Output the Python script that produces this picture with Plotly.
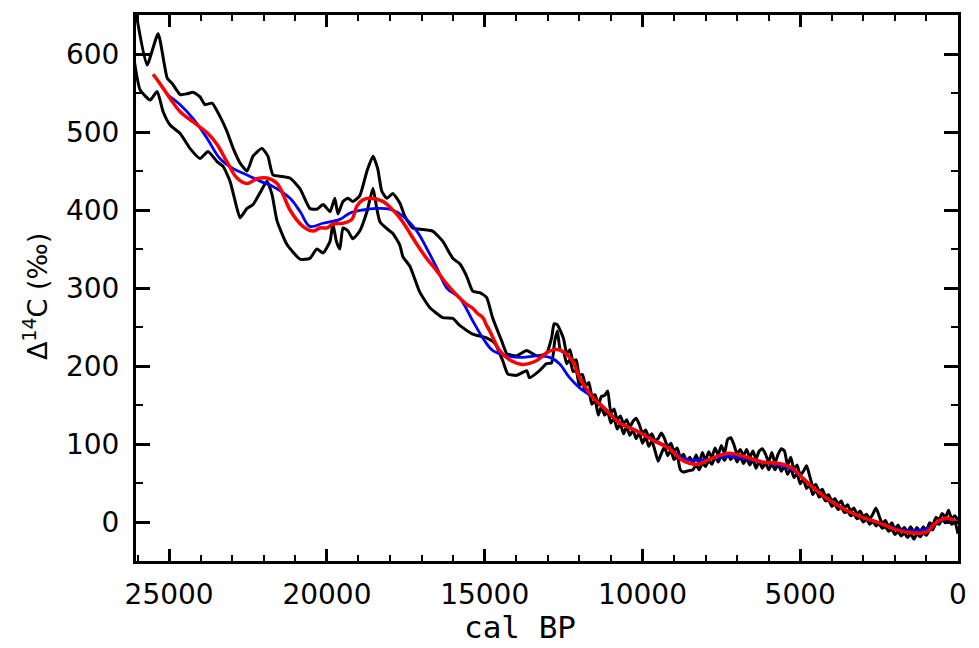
import plotly.graph_objects as go

# ---- black record A ----
a_x = [26100, 25700, 25350, 25060, 24900, 24650, 24430, 24240, 24020, 23860, 23640, 23390, 23170, 22970,
       22750, 22530, 22340, 22060, 21870, 21710, 21420, 21170, 20850, 20540, 20320, 20120, 19900, 19750,
       19650, 19490, 19330, 19180, 18960, 18730, 18540, 18390, 18260, 18100, 17910, 17690, 17530, 17280,
       16960, 16650, 16330, 16010, 15790, 15570, 15380, 15160, 14940, 14750, 14460, 14300, 13990, 13670,
       13350, 13040, 12880, 12800, 12700, 12600,
       12500, 12400, 12300, 12200, 12100, 12000, 11900, 11800, 11700, 11600, 11500, 11400, 11300, 11200,
       11100, 11000, 10900, 10800, 10700, 10600, 10500, 10400, 10300, 10200, 10100, 10000, 9900, 9800,
       9700, 9600, 9500, 9400, 9300, 9200, 9100, 9000, 8900, 8800, 8700, 8600, 8500, 8400, 8300, 8200,
       8100, 8000, 7900, 7800, 7700, 7600, 7500, 7400, 7300, 7200, 7100, 7000, 6900, 6800, 6700, 6600,
       6500, 6400, 6300, 6200, 6100, 6000, 5900, 5800, 5700, 5600, 5500, 5400, 5300, 5200, 5100, 5000,
       4900, 4800, 4700, 4600, 4500, 4400, 4300, 4200, 4100, 4000, 3900, 3800, 3700, 3600, 3500, 3400,
       3300, 3200, 3100, 3000, 2900, 2800, 2700, 2600, 2500, 2400, 2300, 2200, 2100, 2000, 1900, 1800,
       1700, 1600, 1500, 1400, 1300, 1200, 1100, 1000, 900, 800, 700, 600, 500, 400, 300, 200, 100, 0]
a_y = [665, 586, 626, 569, 562, 548, 549, 551, 545, 535, 537, 520, 501, 479,
       460, 450, 469, 479, 469, 445, 443, 441, 427, 402, 401, 407, 398, 415,
       395, 411, 415, 411, 418, 450, 469, 453, 424, 415, 421, 409, 392, 377,
       375, 373, 360, 338, 331, 315, 296, 294, 288, 262, 232, 216, 213, 220,
       213, 216, 236, 254, 253, 245,
       235, 216, 221, 206, 208, 188, 189, 175, 179, 162, 163, 150, 161, 162,
       168, 140, 145, 131, 136, 126, 131, 122, 129, 133, 125, 114, 118, 109,
       113, 104, 107, 114, 107, 96, 101, 91, 95, 83, 87, 78, 83, 76, 86, 76,
       89, 79, 90, 83, 95, 86, 98, 88, 106, 108, 99, 87, 93, 85, 93, 83,
       91, 81, 91, 94, 87, 77, 89, 76, 87, 94, 91, 73, 83, 68, 73, 60,
       65, 72, 59, 46, 48, 39, 42, 33, 35, 27, 30, 23, 27, 18, 22, 14,
       18, 10, 14, 7, 10, 4, 10, 18, 8, -2, 2, -6, -1, -9, -4, -11,
       -7, -13, -6, -13, -7, -13, -6, -11, -1, -4, 6, 3, 11, 6, 15, 4, 8, 2]

# ---- black record B ----
b_x = [26100, 25920, 25600, 25380, 25190, 24970, 24650, 24340, 24020, 23770, 23480, 23290, 23070, 22850,
       22750, 22530, 22340, 22120, 21900, 21740, 21580, 21270, 20850, 20540, 20320, 20120, 19900, 19810,
       19700, 19590, 19490, 19330, 19180, 18960, 18730, 18540, 18420, 18320, 18100, 17910, 17690, 17590,
       17370, 17060, 16740, 16330, 16010, 15790, 15380, 14940, 14680, 14430, 14270, 13990, 13670, 13580,
       13260, 13040, 12880, 12780, 12700, 12600,
       12500, 12400, 12300, 12200, 12100, 12000, 11900, 11800, 11700, 11600, 11500, 11400, 11300, 11200,
       11100, 11000, 10900, 10800, 10700, 10600, 10500, 10400, 10300, 10200, 10100, 10000, 9900, 9800,
       9700, 9600, 9500, 9400, 9300, 9200, 9100, 9000, 8900, 8800, 8700, 8600, 8500, 8400, 8300, 8200,
       8100, 8000, 7900, 7800, 7700, 7600, 7500, 7400, 7300, 7200, 7100, 7000, 6900, 6800, 6700, 6600,
       6500, 6400, 6300, 6200, 6100, 6000, 5900, 5800, 5700, 5600, 5500, 5400, 5300, 5200, 5100, 5000,
       4900, 4800, 4700, 4600, 4500, 4400, 4300, 4200, 4100, 4000, 3900, 3800, 3700, 3600, 3500, 3400,
       3300, 3200, 3100, 3000, 2900, 2800, 2700, 2600, 2500, 2400, 2300, 2200, 2100, 2000, 1900, 1800,
       1700, 1600, 1500, 1400, 1300, 1200, 1100, 1000, 900, 800, 700, 600, 500, 400, 300, 200, 100, 0]
b_y = [590, 554, 541, 552, 526, 509, 498, 479, 466, 475, 462, 456, 437, 402,
       390, 402, 407, 422, 437, 420, 386, 356, 337, 338, 350, 345, 360, 382,
       360, 350, 377, 373, 363, 373, 398, 428, 402, 385, 376, 370, 355, 340,
       328, 295, 275, 262, 261, 252, 241, 236, 229, 207, 190, 188, 194, 185,
       194, 203, 204, 232, 245, 220,
       218, 203, 208, 193, 194, 175, 179, 167, 167, 151, 156, 137, 148, 137,
       141, 127, 133, 119, 126, 113, 122, 111, 118, 107, 114, 101, 109, 97,
       104, 91, 78, 88, 96, 85, 92, 80, 85, 67, 64, 65, 66, 67, 73, 67,
       76, 71, 79, 74, 83, 77, 85, 79, 87, 80, 86, 77, 84, 75, 82, 73,
       80, 69, 78, 69, 76, 67, 75, 67, 74, 65, 72, 61, 69, 57, 62, 49,
       55, 43, 47, 35, 41, 32, 34, 27, 28, 20, 23, 16, 19, 12, 14, 8,
       10, 4, 6, 0, 4, -3, 1, -5, -2, -8, -6, -12, -9, -16, -12, -18,
       -14, -20, -15, -22, -15, -19, -14, -17, -10, -10, -2, -3, 3, -1, 4, -3, 0, -15]

# ---- blue smooth curve ----
blue_x = [25060, 24650, 24240, 23800, 23390, 22970, 22530, 22120, 21710, 21170, 20850, 20540, 20130,
          19590, 19270, 18860, 18420, 18010, 17590, 17150, 16840, 16520, 16200, 15790, 15380, 15060,
          14750, 14300, 13800, 13350, 12940, 12630, 12310, 11990, 11680, 11140, 10730, 10190, 9680,
          9150, 8730, 8290, 7780, 7250, 6710, 6200, 5660, 5250, 4940, 4620, 4080, 3540, 3040, 2500,
          1960, 1460, 1010, 700, 380, 190, 30]
blue_y = [548, 535, 517, 492, 466, 453, 445, 437, 430, 415, 398, 379, 383,
          388, 396, 400, 402, 401, 392, 373, 351, 326, 300, 287, 258, 236,
          220, 213, 211, 213, 211, 203, 185, 172, 163, 144, 128, 117, 106,
          95, 82, 79, 81, 84, 81, 76, 73, 67, 57, 45, 28, 15, 6, -1,
          -9, -11, -9, -2, 4, 3, 0]

# ---- red smooth curve ----
red_x = [25510, 25290, 24970, 24650, 24240, 23770, 23480, 23170, 22850, 22530, 22220, 21900, 21580,
         21390, 21170, 20760, 20440, 20220, 20000, 19810, 19490, 19210, 19050, 18860, 18640, 18230,
         17910, 17690, 17470, 17150, 16840, 16520, 16200, 15890, 15570, 15380, 15220, 15060, 14940,
         14840, 14530, 14210, 13800, 13350, 13040, 12780, 12530, 12210, 11990, 11580, 11140, 10730,
         10190, 9680, 9150, 8730, 8290, 7780, 7250, 6710, 6200, 5660, 5250, 4940, 4620, 4080, 3540,
         3040, 2500, 1960, 1460, 1010, 700, 380, 190, 30]
red_y = [574, 562, 543, 526, 513, 498, 484, 462, 441, 434, 440, 441, 434,
         420, 400, 379, 373, 377, 377, 382, 383, 388, 405, 413, 415, 411,
         400, 390, 377, 356, 338, 322, 305, 291, 279, 274, 267, 262, 252,
         245, 220, 208, 202, 207, 217, 221, 219, 206, 185, 160, 143, 127,
         117, 105, 94, 79, 74, 82, 88, 83, 77, 75, 69, 57, 45, 28, 15,
         6, -1, -10, -14, -13, -1, 5, 3, -1]

x_ticks = [25000, 20000, 15000, 10000, 5000, 0]
y_ticks = [0, 100, 200, 300, 400, 500, 600]

fig = go.Figure()
fig.add_trace(go.Scatter(x=a_x, y=a_y, mode="lines",
                         line=dict(color="black", width=3, shape="spline", smoothing=0.5)))
fig.add_trace(go.Scatter(x=b_x, y=b_y, mode="lines",
                         line=dict(color="black", width=3, shape="spline", smoothing=0.5)))
fig.add_trace(go.Scatter(x=blue_x, y=blue_y, mode="lines",
                         line=dict(color="#0000ff", width=2.8, shape="spline", smoothing=1.0)))
fig.add_trace(go.Scatter(x=red_x, y=red_y, mode="lines",
                         line=dict(color="#ff0000", width=3.5, shape="spline", smoothing=1.0)))

tickfont = dict(family="DejaVu Sans", size=28, color="black")

fig.update_layout(
    width=979, height=648,
    margin=dict(l=136, r=19, t=13, b=87),
    plot_bgcolor="white", paper_bgcolor="white",
    showlegend=False,
    xaxis=dict(range=[26050, 0], tickvals=x_ticks, ticktext=[str(v) for v in x_ticks],
               ticks="inside", ticklen=12, tickwidth=3, tickcolor="black",
               showline=True, linecolor="black", linewidth=3, mirror="ticks",
               showgrid=False, zeroline=False, tickfont=tickfont, ticklabelstandoff=6,
               minor=dict(dtick=1000, tick0=0, ticks="inside", ticklen=6, tickwidth=2,
                          tickcolor="black", showgrid=False)),
    yaxis=dict(range=[-50, 650], tickvals=y_ticks, ticktext=[str(v) for v in y_ticks],
               ticks="inside", ticklen=14, tickwidth=3, tickcolor="black",
               showline=True, linecolor="black", linewidth=3, mirror="ticks",
               showgrid=False, zeroline=False, tickfont=tickfont, ticklabelstandoff=8,
               minor=dict(dtick=50, tick0=0, ticks="inside", ticklen=7, tickwidth=2,
                          tickcolor="black", showgrid=False)),
    annotations=[
        dict(text="cal BP", xref="paper", yref="paper", x=0.467, y=-0.12,
             showarrow=False, font=dict(family="DejaVu Sans Mono", size=31, color="black"),
             xanchor="center", yanchor="middle"),
        dict(text="Δ<sup>14</sup>C (‰)", xref="paper", yref="paper", x=-0.123, y=0.485,
             showarrow=False, textangle=-90, font=dict(family="DejaVu Sans", size=27, color="black"),
             xanchor="center", yanchor="middle"),
    ],
)

fig.write_html("out.html")
